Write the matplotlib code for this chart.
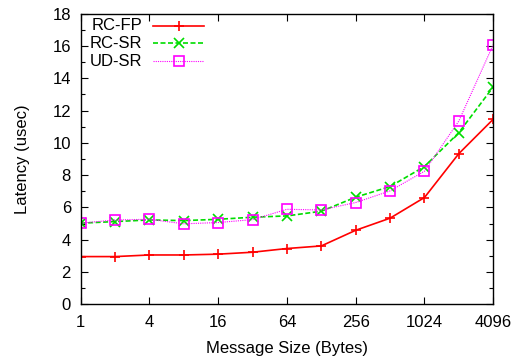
import matplotlib
matplotlib.use('Agg')
from matplotlib import pyplot as plt
from matplotlib.lines import Line2D
from matplotlib.ticker import MultipleLocator, NullLocator

plt.rcParams['font.family'] = ['Liberation Sans', 'DejaVu Sans']

sizes = [1, 2, 4, 8, 16, 32, 64, 128, 256, 512, 1024, 2048, 4096]
rc_fp = [2.95, 2.95, 3.05, 3.05, 3.1, 3.22, 3.45, 3.61, 4.58, 5.33, 6.61, 9.33, 11.46]
rc_sr = [5.02, 5.12, 5.22, 5.18, 5.26, 5.39, 5.47, 5.76, 6.63, 7.29, 8.53, 10.63, 13.46]
ud_sr = [5.02, 5.22, 5.26, 4.98, 5.06, 5.24, 5.88, 5.84, 6.30, 7.02, 8.24, 11.35, 16.08]
xticks = [1, 4, 16, 64, 256, 1024, 4096]

series = [
    ('RC-FP', rc_fp, dict(color='#ff0000', linestyle='-', marker='+', markersize=7.5, lw=1.2, mew=1.2)),
    ('RC-SR', rc_sr, dict(color='#00dd00', linestyle=(0, (3, 1.5)), marker='x', markersize=6.5, lw=1.2, mew=1.2)),
    ('UD-SR', ud_sr, dict(color='#ff00ff', linestyle=(0, (1, 1)), marker='s', markersize=7.5, lw=0.8, mew=1.2,
                          markerfacecolor='none')),
]

fig = plt.figure(figsize=(5.17, 3.6), dpi=100)
ax = fig.add_axes([0.156, 0.155, 0.798, 0.807])

for name, vals, style in series:
    ax.plot(sizes, vals, **style)

ax.set_xscale('log', base=2)
ax.set_xlim(1, 4096)
ax.set_ylim(0, 18)
ax.set_xticks(xticks)
ax.set_xticklabels([str(t) for t in xticks])
ax.xaxis.set_minor_locator(NullLocator())
ax.yaxis.set_major_locator(MultipleLocator(2))
ax.yaxis.set_minor_locator(MultipleLocator(1))
ax.tick_params(which='both', direction='in', top=True, right=True, labelsize=12, width=0.8)
ax.tick_params(which='major', length=5)
ax.tick_params(which='minor', length=3)
ax.tick_params(axis='x', pad=8)
ax.tick_params(axis='y', pad=7)
for s in ax.spines.values():
    s.set_linewidth(1.0)

ax.set_xlabel('Message Size (Bytes)', fontsize=12, labelpad=8)
ax.set_ylabel('Latency (usec)', fontsize=12, labelpad=16)

# gnuplot-style key: label right-aligned, sample to its right
for i, (name, vals, style) in enumerate(series):
    y = 0.958 - i * 0.0605
    ax.text(0.15, y, name, transform=ax.transAxes, ha='right', va='center', fontsize=12)
    ax.add_line(Line2D([0.175, 0.3], [y, y], transform=ax.transAxes, **{k: v for k, v in style.items() if k != 'marker'}))
    ax.add_line(Line2D([0.2375], [y], transform=ax.transAxes, **style))

fig.savefig('out.png', dpi=100)
